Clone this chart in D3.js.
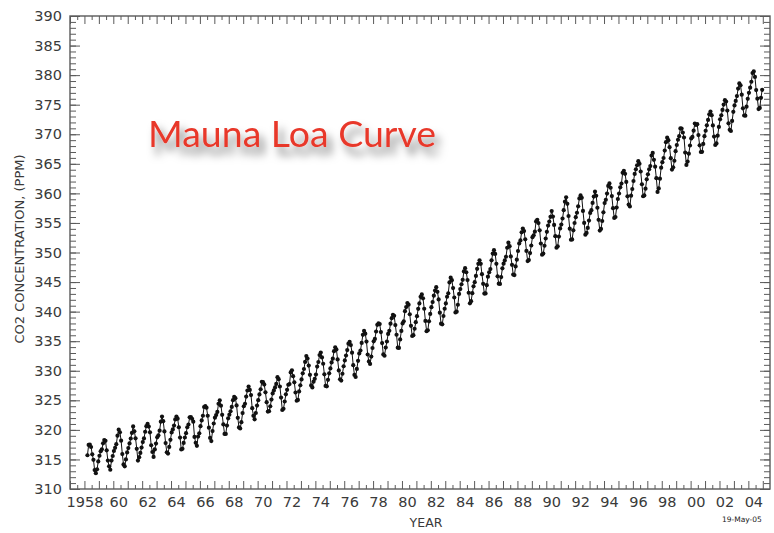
<!DOCTYPE html>
<html>
<head>
<meta charset="utf-8">
<script src="https://cdn.jsdelivr.net/npm/d3@7"></script>
<style>
  body { margin: 0; background: #fff; }
  svg { display: block; }
</style>
</head>
<body>
<svg id="chart"></svg>
<script>
// monthly CO2 at Mauna Loa (ppm), one row per year, Jan..Dec
const years = d3.range(1958, 2005);
const co2 = [
  [null, null, 315.71, 317.45, 317.50, 317.10, 315.86, 314.93, 313.20, 312.66, 313.33, 314.67],
  [315.62, 316.38, 316.71, 317.72, 318.29, 318.15, 316.54, 314.80, 313.84, 313.26, 314.80, 315.58],
  [316.43, 316.97, 317.58, 319.02, 320.03, 319.59, 318.18, 315.91, 314.16, 313.83, 315.00, 316.19],
  [316.93, 317.70, 318.54, 319.48, 320.58, 319.77, 318.57, 316.79, 314.80, 315.38, 316.10, 317.01],
  [317.94, 318.56, 319.68, 320.63, 321.01, 320.55, 319.58, 317.40, 316.26, 315.42, 316.69, 317.69],
  [318.74, 319.08, 319.86, 321.39, 322.25, 321.47, 319.74, 317.77, 316.21, 315.99, 317.12, 318.31],
  [319.57, 320.07, 320.73, 321.77, 322.25, 321.89, 320.44, 318.70, 316.70, 316.79, 317.79, 318.71],
  [319.44, 320.44, 320.89, 322.13, 322.16, 321.87, 321.39, 318.81, 317.81, 317.30, 318.87, 319.42],
  [320.62, 321.59, 322.39, 323.87, 324.01, 323.75, 322.39, 320.37, 318.64, 318.10, 319.79, 321.08],
  [322.07, 322.50, 323.04, 324.42, 325.00, 324.09, 322.55, 320.92, 319.31, 319.31, 320.72, 321.96],
  [322.57, 323.15, 323.89, 325.02, 325.57, 325.36, 324.14, 322.03, 320.41, 320.25, 321.31, 322.84],
  [324.00, 324.42, 325.64, 326.66, 327.34, 326.76, 325.88, 323.67, 322.38, 321.78, 322.85, 324.11],
  [325.03, 325.99, 326.87, 328.13, 328.07, 327.66, 326.35, 324.69, 323.10, 323.16, 323.98, 325.13],
  [326.17, 326.68, 327.18, 327.78, 328.92, 328.57, 327.34, 325.46, 323.36, 323.57, 324.80, 326.01],
  [326.77, 327.63, 327.75, 329.72, 330.07, 329.09, 328.05, 326.32, 324.93, 325.06, 326.50, 327.55],
  [328.54, 329.56, 330.30, 331.50, 332.48, 332.07, 330.87, 329.31, 327.51, 327.18, 328.16, 328.64],
  [329.35, 330.71, 331.48, 332.65, 333.09, 332.25, 331.18, 329.40, 327.43, 327.37, 328.46, 329.57],
  [330.40, 331.40, 332.04, 333.31, 333.96, 333.59, 331.91, 330.06, 328.56, 328.34, 329.49, 330.76],
  [331.75, 332.56, 333.50, 334.58, 334.87, 334.34, 333.05, 330.94, 329.30, 328.94, 330.31, 331.68],
  [332.93, 333.42, 334.70, 336.07, 336.74, 336.27, 334.93, 332.75, 331.58, 331.16, 332.40, 333.85],
  [334.97, 335.39, 336.64, 337.76, 338.01, 337.89, 336.54, 334.68, 332.76, 332.54, 333.92, 334.95],
  [336.23, 336.76, 337.96, 338.89, 339.47, 339.29, 337.73, 336.09, 333.91, 333.86, 335.29, 336.73],
  [338.01, 338.36, 340.08, 340.77, 341.46, 341.17, 339.56, 337.60, 335.88, 336.01, 337.10, 338.21],
  [339.23, 340.47, 341.38, 342.51, 342.91, 342.25, 340.49, 338.43, 336.69, 336.85, 338.36, 339.61],
  [340.75, 341.61, 342.70, 343.56, 344.13, 343.35, 342.06, 339.82, 337.97, 337.86, 339.26, 340.49],
  [341.38, 342.52, 343.10, 344.94, 345.75, 345.32, 343.99, 342.39, 339.86, 339.99, 341.16, 342.99],
  [343.82, 344.63, 345.38, 346.80, 347.35, 346.66, 345.34, 343.19, 341.41, 341.77, 343.12, 344.28],
  [344.98, 346.03, 347.24, 348.09, 348.69, 348.08, 346.33, 344.71, 343.05, 343.07, 344.47, 345.91],
  [346.65, 347.19, 348.68, 349.82, 350.39, 349.76, 348.09, 345.97, 344.73, 344.68, 345.85, 347.32],
  [348.11, 348.66, 349.28, 350.80, 351.66, 351.07, 349.33, 347.92, 346.27, 346.18, 347.64, 348.78],
  [350.25, 351.54, 352.05, 353.41, 354.04, 353.62, 352.22, 350.27, 348.55, 348.72, 349.91, 351.18],
  [352.60, 352.92, 353.53, 355.26, 355.52, 354.97, 353.75, 351.52, 349.64, 349.83, 351.14, 352.37],
  [353.50, 354.55, 355.23, 356.04, 357.00, 356.07, 354.67, 352.76, 350.82, 351.04, 352.69, 354.07],
  [354.72, 355.75, 357.16, 358.60, 359.34, 358.24, 356.17, 354.03, 352.16, 352.21, 353.75, 354.99],
  [355.98, 356.72, 357.81, 359.15, 359.66, 359.25, 357.03, 355.00, 353.01, 353.31, 354.16, 355.40],
  [356.70, 357.16, 358.38, 359.46, 360.28, 359.60, 357.57, 355.52, 353.70, 353.98, 355.33, 356.80],
  [358.36, 358.91, 359.97, 361.26, 361.68, 360.95, 359.55, 357.49, 355.84, 356.00, 357.59, 359.05],
  [359.98, 361.03, 361.66, 363.48, 363.82, 363.30, 361.94, 359.50, 358.11, 357.80, 359.61, 360.74],
  [362.09, 363.29, 364.06, 364.76, 365.45, 365.01, 363.70, 361.54, 359.51, 359.65, 360.80, 362.38],
  [363.23, 364.06, 364.61, 366.40, 366.84, 365.68, 364.52, 362.57, 360.24, 360.83, 362.49, 364.34],
  [365.27, 365.98, 367.24, 368.66, 369.42, 368.99, 367.82, 365.95, 364.02, 364.40, 365.52, 367.13],
  [368.18, 369.07, 369.68, 370.99, 370.96, 370.30, 369.45, 366.90, 364.81, 365.37, 366.72, 368.10],
  [369.29, 369.54, 370.60, 371.82, 371.58, 371.70, 369.86, 368.13, 367.00, 367.03, 368.37, 369.67],
  [370.59, 371.51, 372.43, 373.37, 373.85, 373.22, 371.50, 369.61, 368.18, 368.45, 369.76, 371.24],
  [372.53, 373.20, 374.12, 375.02, 375.76, 375.52, 374.01, 371.85, 370.75, 370.55, 372.25, 373.79],
  [374.88, 375.64, 376.45, 377.73, 378.60, 378.28, 376.70, 374.38, 373.17, 373.15, 374.66, 375.99],
  [377.00, 377.87, 378.88, 380.35, 380.62, 379.69, 377.47, 376.01, 374.25, 374.46, 376.16, 377.51]
];
const yTicks = d3.range(310, 391, 5);
const xLabelYears = d3.range(1958, 2005, 2);

const W = 774, H = 533;
const plot = { left: 70, right: 770, top: 16, bottom: 489 };

const svg = d3.select("#chart").attr("width", W).attr("height", H);

const x = d3.scaleLinear().domain([1957, 2005.5]).range([plot.left, plot.right]);
const y = d3.scaleLinear().domain([310, 390]).range([plot.bottom, plot.top]);

// points: year + month mid
const points = [];
co2.forEach((row, i) => {
  row.forEach((v, m) => {
    if (v != null) points.push({ t: years[i] + (m + 0.5) / 12, v: v });
  });
});

const axisColor = "#5a5a5a";
const textColor = "#3a3a3a";

function styleAxis(g) {
  g.select(".domain").remove();
  g.selectAll(".tick line").attr("stroke", axisColor).attr("stroke-width", 1);
  g.selectAll(".tick text")
    .attr("fill", textColor)
    .attr("font-family", "DejaVu Sans, sans-serif")
    .attr("font-size", 14.5);
}

const wholeYears = d3.range(1957, 2006);
const halfYears = d3.range(1957.5, 2005.5, 1);
const ppmMinor = d3.range(310, 391, 1);

// bottom axis
svg.append("g").attr("transform", `translate(0,${plot.bottom})`)
  .call(d3.axisBottom(x).tickValues(wholeYears).tickSize(-8).tickFormat(""))
  .call(styleAxis);
svg.append("g").attr("transform", `translate(0,${plot.bottom})`)
  .call(d3.axisBottom(x).tickValues(halfYears).tickSize(-4).tickFormat(""))
  .call(styleAxis);
svg.append("g").attr("transform", `translate(0,${plot.bottom})`)
  .call(d3.axisBottom(x).tickValues(xLabelYears).tickSize(0).tickPadding(8)
    .tickFormat(d => d === 1958 ? "1958" : String(d % 100).padStart(2, "0")))
  .call(styleAxis)
  .call(g => g.selectAll(".tick text").attr("dx", d => d === 1958 ? 0 : 5));

// top axis
svg.append("g").attr("transform", `translate(0,${plot.top})`)
  .call(d3.axisTop(x).tickValues(wholeYears).tickSize(-8).tickFormat(""))
  .call(styleAxis);
svg.append("g").attr("transform", `translate(0,${plot.top})`)
  .call(d3.axisTop(x).tickValues(halfYears).tickSize(-4).tickFormat(""))
  .call(styleAxis);

// left axis
svg.append("g").attr("transform", `translate(${plot.left},0)`)
  .call(d3.axisLeft(y).tickValues(ppmMinor).tickSize(-6).tickFormat(""))
  .call(styleAxis);
svg.append("g").attr("transform", `translate(${plot.left},0)`)
  .call(d3.axisLeft(y).tickValues(yTicks).tickSize(-10).tickPadding(8))
  .call(styleAxis);

// right axis
svg.append("g").attr("transform", `translate(${plot.right},0)`)
  .call(d3.axisRight(y).tickValues(ppmMinor).tickSize(-6).tickFormat(""))
  .call(styleAxis);
svg.append("g").attr("transform", `translate(${plot.right},0)`)
  .call(d3.axisRight(y).tickValues(yTicks).tickSize(-10).tickFormat(""))
  .call(styleAxis);

// frame
svg.append("rect")
  .attr("x", plot.left).attr("y", plot.top)
  .attr("width", plot.right - plot.left).attr("height", plot.bottom - plot.top)
  .attr("fill", "none").attr("stroke", axisColor).attr("stroke-width", 1.4);

// curve
const line = d3.line().x(d => x(d.t)).y(d => y(d.v));
svg.append("path").datum(points)
  .attr("d", line)
  .attr("fill", "none").attr("stroke", "#111").attr("stroke-width", 1);

svg.append("g").selectAll("circle").data(points).join("circle")
  .attr("cx", d => x(d.t)).attr("cy", d => y(d.v))
  .attr("r", 2.1).attr("fill", "#111");

// axis titles
svg.append("text")
  .attr("x", 426).attr("y", 527)
  .attr("text-anchor", "middle")
  .attr("font-family", "DejaVu Sans, sans-serif").attr("font-size", 12.5)
  .attr("fill", textColor)
  .text("YEAR");

svg.append("text")
  .attr("transform", "translate(24,249) rotate(-90)")
  .attr("text-anchor", "middle")
  .attr("font-family", "DejaVu Sans, sans-serif").attr("font-size", 13)
  .attr("fill", textColor)
  .text("CO2 CONCENTRATION, (PPM)");

svg.append("text")
  .attr("x", 722).attr("y", 522)
  .attr("font-family", "DejaVu Sans, sans-serif").attr("font-size", 7.5)
  .attr("fill", "#222")
  .text("19-May-05");

// title with soft shadow
const defs = svg.append("defs");
defs.append("filter").attr("id", "shadow")
  .attr("x", "-10%").attr("y", "-30%").attr("width", "130%").attr("height", "190%")
  .append("feDropShadow")
  .attr("dx", 5).attr("dy", 8).attr("stdDeviation", 4.5)
  .attr("flood-color", "#000").attr("flood-opacity", 0.5);

svg.append("text")
  .attr("x", 148).attr("y", 147)
  .attr("font-family", "Lato, sans-serif").attr("font-size", 37)
  .attr("textLength", 288).attr("lengthAdjust", "spacingAndGlyphs")
  .attr("fill", "#e8392b")
  .attr("filter", "url(#shadow)")
  .text("Mauna Loa Curve");
</script>
</body>
</html>
